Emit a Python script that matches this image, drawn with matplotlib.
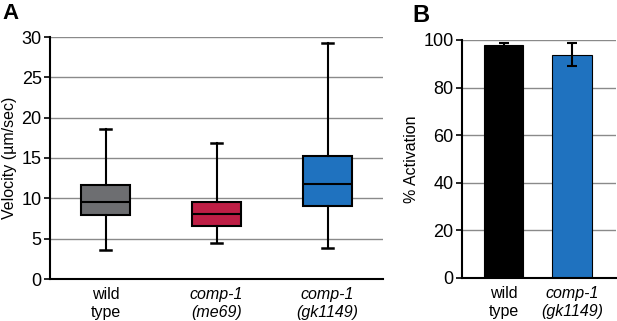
import matplotlib

matplotlib.use("Agg")
import matplotlib.pyplot as plt  # noqa: E402

plt.rcParams.update({"font.family": ["Liberation Sans", "DejaVu Sans"],
                     "font.size": 11})

# Panel A — velocity box plots
strains_a = ["wild\ntype", "comp-1\n(me69)", "comp-1\n(gk1149)"]
italic_a = [False, True, True]
whis_lo = [3.6, 4.5, 3.9]
q1 = [7.9, 6.6, 9.1]
median = [9.5, 8.1, 11.75]
q3 = [11.6, 9.55, 15.3]
whis_hi = [18.6, 16.9, 29.2]
box_colors = ["#6d6e71", "#be1e45", "#1f72bf"]

# Panel B — % activation
strains_b = ["wild\ntype", "comp-1\n(gk1149)"]
italic_b = [False, True]
activation = [98.1, 93.8]
activation_err = [0.6, 4.8]
bar_colors = ["#000000", "#1f72bf"]

W, H = 617, 321
fig = plt.figure(figsize=(W / 100, H / 100), dpi=100)


def px_axes(left, top, right, bottom):
    return fig.add_axes([left / W, 1 - bottom / H, (right - left) / W, (bottom - top) / H])


def style(ax):
    for s in ("top", "right"):
        ax.spines[s].set_visible(False)
    for s in ("left", "bottom"):
        ax.spines[s].set_linewidth(1.5)
    ax.yaxis.grid(True, color="#8a8a8a", lw=1.0)
    ax.set_axisbelow(True)
    ax.tick_params(axis="y", length=4, width=1.2, labelsize=13, pad=2)
    ax.tick_params(axis="x", length=0, labelsize=11.5, pad=6)


# ---- A ----
axA = px_axes(50, 37, 383, 279)
stats = [dict(whislo=lo, q1=a, med=m, q3=b, whishi=hi, fliers=[])
         for lo, a, m, b, hi in zip(whis_lo, q1, median, q3, whis_hi)]
pos = list(range(1, len(stats) + 1))
bp = axA.bxp(stats, positions=pos, widths=0.45, capwidths=0.1, patch_artist=True,
             showfliers=False,
             boxprops=dict(lw=1.5, edgecolor="black"),
             medianprops=dict(color="black", lw=1.5),
             whiskerprops=dict(color="black", lw=1.5),
             capprops=dict(color="black", lw=1.8))
for patch, c in zip(bp["boxes"], box_colors):
    patch.set_facecolor(c)
axA.set_xlim(0.5, 3.5)
axA.set_ylim(0, 30)
axA.set_yticks(range(0, 31, 5))
axA.set_xticks(pos)
axA.set_xticklabels(strains_a)
for lab, it in zip(axA.get_xticklabels(), italic_a):
    lab.set_fontstyle("italic" if it else "normal")
axA.set_ylabel("Velocity (µm/sec)", fontsize=11.5, labelpad=3)
style(axA)

# ---- B ----
axB = px_axes(462, 40, 616, 278)
xb = list(range(len(activation)))
axB.bar(xb, activation, width=0.57, color=bar_colors, edgecolor="black", lw=0.8)
axB.errorbar(xb, activation, yerr=activation_err, fmt="none", ecolor="black",
             elinewidth=1.5, capsize=3.5, capthick=1.5)
axB.set_xlim(-0.606, 1.642)
axB.set_ylim(0, 100)
axB.set_yticks(range(0, 101, 20))
axB.set_xticks(xb)
axB.set_xticklabels(strains_b)
for lab, it in zip(axB.get_xticklabels(), italic_b):
    lab.set_fontstyle("italic" if it else "normal")
axB.set_ylabel("% Activation", fontsize=11.5, labelpad=3)
style(axB)

fig.text(2 / W, 1 - 19 / H, "A", fontsize=16, fontweight="bold")
fig.text(412 / W, 1 - 22 / H, "B", fontsize=17, fontweight="bold")

fig.savefig("out.png", dpi=100)
